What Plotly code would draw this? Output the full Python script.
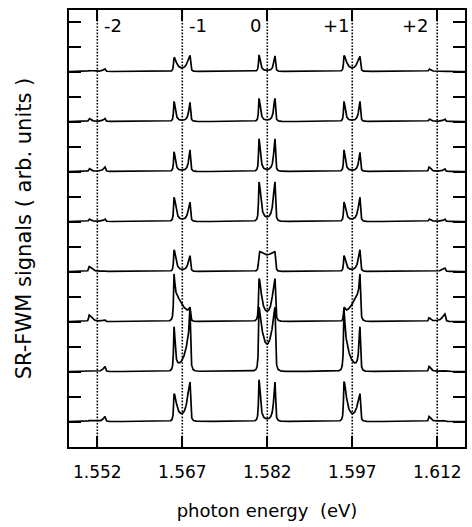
import numpy as np
import plotly.graph_objects as go

# ---------------- data ----------------
ORDER_LABELS = ["-2", "-1", "0", "+1", "+2"]
ORDER_CENTERS = [1.552, 1.567, 1.582, 1.597, 1.612]          # eV, dotted lines
TICK_VALUES = [1.552, 1.567, 1.582, 1.597, 1.612]
TICK_LABELS = ["1.552", "1.567", "1.582", "1.597", "1.612"]
Y_TICKS = [0.0, 0.5, 1.0, 1.5, 2.0, 2.5, 3.0, 3.5, 4.0, 4.5, 5.0,
           5.5, 6.0, 6.5, 7.0, 7.5, 8.0, 8.5]
X_TITLE = "photon energy  (eV)"
Y_TITLE = "SR-FWM signals ( arb. units )"

# each order shows a doublet: lower line and upper line (eV relative to centre)
LINE_LOW = -1.46e-3
LINE_HIGH = 1.36e-3
OUTER_WIDTH_MEV = 0.10

TRACE_OFFSETS = [7.5, 6.5, 5.5, 4.5, 3.5, 2.5, 1.5, 0.5]

# components: (order index, side 'L'/'R', peak height, inner half-width meV)
trace_1 = [(0, "L", 0.02, 0.70), (0, "R", 0.05, 0.35),
           (1, "L", 0.27, 0.53), (1, "R", 0.31, 0.53),
           (2, "L", 0.33, 0.26), (2, "R", 0.31, 0.26),
           (3, "L", 0.31, 0.53), (3, "R", 0.29, 0.53),
           (4, "L", 0.05, 0.35), (4, "R", 0.01, 0.70)]
trace_2 = [(0, "L", 0.06, 0.35), (0, "R", 0.06, 0.35),
           (1, "L", 0.40, 0.26), (1, "R", 0.38, 0.26),
           (2, "L", 0.46, 0.26), (2, "R", 0.46, 0.26),
           (3, "L", 0.40, 0.26), (3, "R", 0.40, 0.26),
           (4, "L", 0.05, 0.35), (4, "R", 0.05, 0.35)]
trace_3 = [(0, "L", 0.06, 0.35), (0, "R", 0.09, 0.35),
           (1, "L", 0.39, 0.26), (1, "R", 0.43, 0.26),
           (2, "L", 0.65, 0.26), (2, "R", 0.65, 0.26),
           (3, "L", 0.43, 0.26), (3, "R", 0.38, 0.26),
           (4, "L", 0.09, 0.35), (4, "R", 0.05, 0.35)]
trace_4 = [(0, "L", 0.05, 0.35), (0, "R", 0.05, 0.35),
           (1, "L", 0.48, 0.35), (1, "R", 0.38, 0.35),
           (2, "L", 0.78, 0.35), (2, "R", 0.78, 0.35),
           (3, "L", 0.38, 0.35), (3, "R", 0.48, 0.35),
           (4, "L", 0.05, 0.35), (4, "R", 0.05, 0.35)]
trace_5 = [(0, "L", 0.10, 0.50), (0, "R", 0.02, 0.35),
           (1, "L", 0.43, 0.35), (1, "R", 0.31, 0.35),
           (2, "L", 0.33, 1.41), (2, "R", 0.33, 1.41),
           (3, "L", 0.31, 0.35), (3, "R", 0.43, 0.35),
           (4, "L", 0.01, 0.35), (4, "R", 0.07, 0.50)]
trace_6 = [(0, "L", 0.13, 0.50), (0, "R", 0.03, 0.35),
           (1, "L", 0.40, 0.14), (1, "L", 0.55, 1.76), (1, "R", 0.13, 0.26),
           (2, "L", 0.83, 0.53), (2, "R", 0.83, 0.53),
           (3, "L", 0.13, 0.26), (3, "R", 0.40, 0.14), (3, "R", 0.55, 1.76),
           (4, "L", 0.07, 0.35), (4, "R", 0.15, 0.50)]
trace_7 = [(0, "L", 0.01, 0.35), (0, "R", 0.10, 0.35),
           (1, "L", 0.83, 0.21), (1, "R", 0.55, 0.14), (1, "R", 0.70, 0.90),
           (2, "L", 0.30, 0.20), (2, "L", 0.90, 0.92),
           (2, "R", 0.30, 0.20), (2, "R", 0.90, 0.92),
           (3, "L", 0.55, 0.14), (3, "L", 0.70, 0.90), (3, "R", 0.83, 0.21),
           (4, "L", 0.10, 0.35), (4, "R", 0.01, 0.35)]
trace_8 = [(0, "L", 0.02, 0.70), (0, "R", 0.10, 0.35),
           (1, "L", 0.53, 0.53), (1, "R", 0.77, 0.53),
           (2, "L", 0.83, 0.26), (2, "R", 0.78, 0.26),
           (3, "L", 0.78, 0.53), (3, "R", 0.53, 0.53),
           (4, "L", 0.10, 0.35), (4, "R", 0.02, 0.70)]

TRACES = [trace_1, trace_2, trace_3, trace_4, trace_5, trace_6, trace_7, trace_8]

X_RANGE = [1.547, 1.6169]
Y_RANGE = [-0.01, 8.73]


def component(E, xl, xr, side, amp, wi, wo):
    if side == "L":
        a, b = xl, xr
        inner = amp * wi**2 / ((E - a) ** 2 + wi**2)
        edge = amp * wi**2 / ((b - a) ** 2 + wi**2)
        outer_a = amp * wo**2 / ((E - a) ** 2 + wo**2)
        outer_b = edge * wo**2 / ((E - b) ** 2 + wo**2)
        return np.where(E < a, outer_a, np.where(E <= b, inner, outer_b))
    else:
        a, b = xr, xl
        inner = amp * wi**2 / ((E - a) ** 2 + wi**2)
        edge = amp * wi**2 / ((b - a) ** 2 + wi**2)
        outer_a = amp * wo**2 / ((E - a) ** 2 + wo**2)
        outer_b = edge * wo**2 / ((E - b) ** 2 + wo**2)
        return np.where(E > a, outer_a, np.where(E >= b, inner, outer_b))


line_pos = []
for c in ORDER_CENTERS:
    line_pos += [c + LINE_LOW, c + LINE_HIGH]
E = np.sort(np.unique(np.concatenate([np.linspace(X_RANGE[0], X_RANGE[1], 5000),
                                      np.array(line_pos)])))

fig = go.Figure()

for c in ORDER_CENTERS:
    fig.add_shape(type="line", x0=c, x1=c, y0=0, y1=1, xref="x", yref="paper",
                  line=dict(color="black", width=1.6, dash="1.6px,1.6px"))

wo = OUTER_WIDTH_MEV * 1e-3
for offset, comps in zip(TRACE_OFFSETS, TRACES):
    y = np.zeros_like(E)
    for (k, side, amp, wmev) in comps:
        c = ORDER_CENTERS[k]
        y += component(E, c + LINE_LOW, c + LINE_HIGH, side, amp, wmev * 1e-3, wo)
    fig.add_trace(go.Scatter(x=E, y=y + offset, mode="lines",
                             line=dict(color="black", width=1.7),
                             hoverinfo="skip", showlegend=False))

label_anchor = ["left", "left", "right", "right", "right"]
label_shift = [5, 5, -4, 0, -6]
for lab, c, anc, sh in zip(ORDER_LABELS, ORDER_CENTERS, label_anchor, label_shift):
    fig.add_annotation(x=c, y=8.43, xref="x", yref="y", text=lab, showarrow=False,
                       xanchor=anc, yanchor="middle", xshift=sh,
                       font=dict(family="DejaVu Sans", size=18, color="black"))

axis_common = dict(showline=True, linecolor="black", linewidth=1.8, mirror="ticks",
                   ticks="inside", tickcolor="black", tickwidth=1.5,
                   showgrid=False, zeroline=False)

fig.update_xaxes(range=X_RANGE, tickvals=TICK_VALUES, ticktext=TICK_LABELS,
                 ticklen=11, ticklabelstandoff=9,
                 tickfont=dict(family="DejaVu Sans", size=17, color="black"),
                 title=dict(text=X_TITLE, font=dict(family="DejaVu Sans", size=18, color="black"),
                            standoff=23),
                 **axis_common)
fig.update_yaxes(range=Y_RANGE, tickvals=Y_TICKS, showticklabels=False, ticklen=12,
                 title=dict(text=Y_TITLE, font=dict(family="DejaVu Sans", size=21, color="black"),
                            standoff=30),
                 **axis_common)

fig.update_layout(width=472, height=527, margin=dict(l=69, r=7, t=10, b=80, autoexpand=False),
                  plot_bgcolor="white", paper_bgcolor="white", showlegend=False)

fig.write_html("out.html")
